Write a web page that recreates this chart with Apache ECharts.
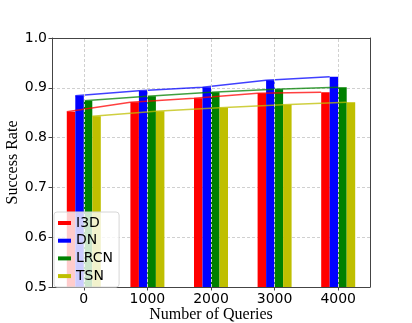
<!DOCTYPE html>
<html>
<head>
<meta charset="utf-8">
<script src="https://cdn.jsdelivr.net/npm/echarts@6/dist/echarts.min.js"></script>
<style>
  html, body { margin: 0; padding: 0; background: #fff; }
  #chart { width: 412px; height: 323px; }
</style>
</head>
<body>
<div id="chart"></div>
<script>
// data
const queries = ["0", "1000", "2000", "3000", "4000"];
const i3d = [0.852, 0.871, 0.879, 0.889, 0.891];
const dn = [0.884, 0.894, 0.901, 0.915, 0.922];
const lrcn = [0.874, 0.883, 0.891, 0.897, 0.901];
const tsn = [0.843, 0.853, 0.860, 0.866, 0.871];
const yTicks = ["0.5", "0.6", "0.7", "0.8", "0.9", "1.0"];

const names = ["I3D", "DN", "LRCN", "TSN"];
const colors = ["#ff0000", "#0000ff", "#008000", "#bfbf00"];
const values = [i3d, dn, lrcn, tsn];

const chart = echarts.init(document.getElementById("chart"));

// bar width in category units (4 bars side by side, no gap)
const barPx = 8.5;
const bandPx = 318 / queries.length;
const bw = barPx / bandPx;

const series = [];
// bars
values.forEach((v, k) => {
  series.push({
    name: names[k],
    type: "bar",
    xAxisIndex: 0,
    yAxisIndex: 0,
    data: v,
    barWidth: barPx,
    barGap: "0%",
    itemStyle: { color: colors[k] },
    silent: true,
    z: 2,
  });
});
// lines through the top-left corner of each bar
values.forEach((v, k) => {
  const off = (k - 2) * bw;
  series.push({
    name: names[k] + "_line",
    type: "line",
    xAxisIndex: 1,
    yAxisIndex: 0,
    data: v.map((y, i) => [i + off, y]),
    symbol: "none",
    lineStyle: { color: colors[k], width: 1.5, opacity: 0.75 },
    silent: true,
    z: 3,
  });
});
// vertical dashed gridlines at the categories
series.push({
  type: "line",
  xAxisIndex: 1,
  yAxisIndex: 0,
  data: [],
  silent: true,
  markLine: {
    symbol: "none",
    silent: true,
    label: { show: false },
    lineStyle: { color: "#d0d0d0", type: [3, 2], width: 1 },
    data: queries.map((q, i) => ({ xAxis: i })),
  },
  z: 1,
});

const option = {
  animation: false,
  grid: { left: 52, right: 42, top: 38, bottom: 36, outerBoundsMode: "none", containLabel: false },
  legend: {
    data: names.map((n) => ({ name: n, icon: "rect" })),
    orient: "vertical",
    left: 54,
    top: 212,
    z: 20,
    itemWidth: 13,
    itemHeight: 4,
    itemGap: 3.7,
    padding: [4, 6, 4, 4],
    backgroundColor: "rgba(255,255,255,0.8)",
    borderColor: "#d6d6d6",
    borderWidth: 1,
    borderRadius: 3,
    textStyle: { fontFamily: "DejaVu Sans", fontSize: 14, color: "#000" },
  },
  xAxis: [
    {
      type: "category",
      data: queries,
      position: "bottom",
      name: "Number of Queries",
      nameLocation: "middle",
      nameGap: 20,
      nameMoveOverlap: false,
      nameTextStyle: { fontFamily: "Liberation Serif", fontSize: 16, color: "#000" },
      axisLine: { show: true, onZero: false, lineStyle: { color: "#444", width: 1 } },
      axisTick: { show: true, alignWithLabel: true, length: 3.5, lineStyle: { color: "#444" } },
      axisLabel: { fontFamily: "DejaVu Sans", fontSize: 14, color: "#000", margin: 5 },
      splitLine: { show: false },
    },
    {
      type: "value",
      min: -0.5,
      max: queries.length - 0.5,
      position: "top",
      axisLine: { show: true, onZero: false, lineStyle: { color: "#444", width: 1 } },
      axisTick: { show: false },
      axisLabel: { show: false },
      splitLine: { show: false },
    },
  ],
  yAxis: [
    {
      type: "value",
      min: 0.5,
      max: 1.0,
      interval: 0.1,
      position: "left",
      name: "Success Rate",
      nameLocation: "middle",
      nameGap: 31,
      nameMoveOverlap: false,
      nameTextStyle: { fontFamily: "Liberation Serif", fontSize: 16, color: "#000" },
      axisLine: { show: true, onZero: false, lineStyle: { color: "#444", width: 1 } },
      axisTick: { show: true, length: 3.5, lineStyle: { color: "#444" } },
      axisLabel: {
        fontFamily: "DejaVu Sans",
        fontSize: 14,
        color: "#000",
        margin: 5,
        formatter: (v) => yTicks[Math.round((v - 0.5) * 10)],
      },
      splitLine: { show: true, lineStyle: { color: "#d0d0d0", type: [3, 2], width: 1 } },
    },
    {
      type: "value",
      min: 0.5,
      max: 1.0,
      position: "right",
      axisLine: { show: true, onZero: false, lineStyle: { color: "#444", width: 1 } },
      axisTick: { show: false },
      axisLabel: { show: false },
      splitLine: { show: false },
    },
  ],
  series: series,
};

chart.setOption(option);
window.addEventListener("resize", function () {
  chart.resize();
});
</script>
</body>
</html>
